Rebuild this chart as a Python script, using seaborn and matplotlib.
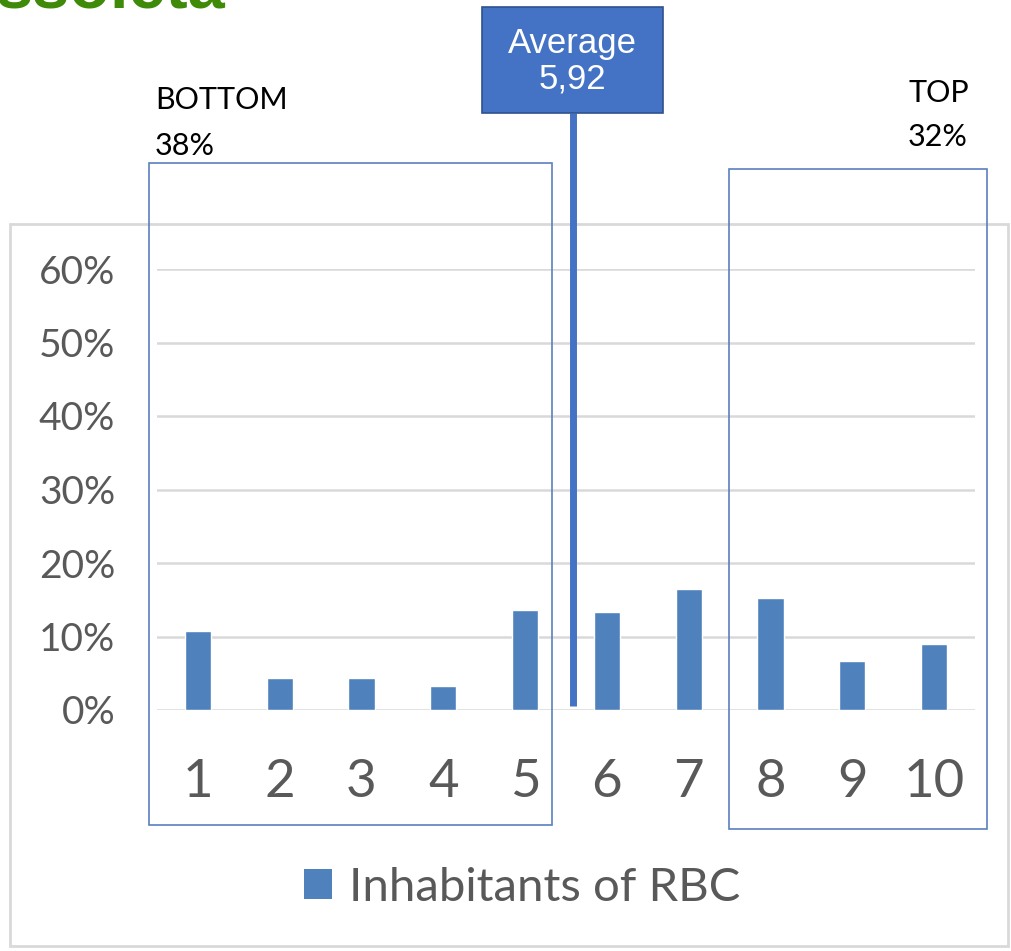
import matplotlib
matplotlib.use("Agg")
import matplotlib.pyplot as plt
import seaborn as sns
import pandas as pd
from matplotlib.patches import Rectangle
from matplotlib.lines import Line2D

# data
deciles = ["1", "2", "3", "4", "5", "6", "7", "8", "9", "10"]
share = [0.108, 0.044, 0.044, 0.033, 0.136, 0.134, 0.165, 0.153, 0.066, 0.090]
y_ticks = [0.0, 0.1, 0.2, 0.3, 0.4, 0.5, 0.6]
y_labels = ["0%", "10%", "20%", "30%", "40%", "50%", "60%"]
series_name = "Inhabitants of RBC"
avg_label = "Average\n5,92"
bottom_label = ("BOTTOM", "38%")
top_label = ("TOP", "32%")

df = pd.DataFrame({"decile": deciles, "share": share})

W, H = 1012, 951
bar_color = "#4F81BD"
box_blue = "#4472C4"
grey_txt = "#595959"
font = "Lato"


def fx(px):
    return px / W


def fy(py):
    return 1 - py / H


sns.set_theme(style="white")
plt.rcParams["font.family"] = [font, "DejaVu Sans"]

fig = plt.figure(figsize=(W / 100, H / 100), dpi=100)
ax = fig.add_axes([fx(157), fy(710), fx(975) - fx(157), fy(269) - fy(710)])

sns.barplot(data=df, x="decile", y="share", color=bar_color, width=0.32,
            saturation=1, ax=ax, zorder=3)

ax.set_xlim(-0.5, 9.5)
ax.set_ylim(0, 0.6)
ax.set_yticks(y_ticks)
ax.set_yticklabels(y_labels)
ax.set_xlabel("")
ax.set_ylabel("")
ax.grid(axis="y", color="#D9D9D9", linewidth=1.8, zorder=0)
ax.grid(axis="x", visible=False)
for s in ax.spines.values():
    s.set_visible(False)
ax.tick_params(axis="y", length=0, pad=30, labelsize=28, labelcolor=grey_txt)
ax.tick_params(axis="x", length=0, pad=35, labelsize=38, labelcolor=grey_txt)

# legend
handle = Rectangle((0, 0), 1, 1, facecolor=bar_color, edgecolor="none")
fig.legend([handle], [series_name], loc="center", bbox_to_anchor=(fx(522), fy(888)),
           frameon=False, fontsize=34, labelcolor=grey_txt, handlelength=0.6,
           handleheight=0.6, handletextpad=0.35)

# outer chart frame
fig.patches.append(Rectangle((fx(10), fy(946)), fx(1008) - fx(10), fy(224) - fy(946),
                             transform=fig.transFigure, fill=False,
                             edgecolor="#D9D9D9", linewidth=2, zorder=0))

# bottom / top group boxes
for x0, y0, x1, y1 in [(149, 163, 552, 825), (729, 169, 987, 829)]:
    fig.patches.append(Rectangle((fx(x0), fy(y1)), fx(x1) - fx(x0), fy(y0) - fy(y1),
                                 transform=fig.transFigure, fill=False,
                                 edgecolor="#5B7FC0", linewidth=1.2, zorder=5))

fig.text(fx(155), fy(109), bottom_label[0], ha="left", va="baseline", fontsize=22,
         color="black")
fig.text(fx(155), fy(155), bottom_label[1], ha="left", va="baseline", fontsize=22,
         color="black")
fig.text(fx(939), fy(102), top_label[0], ha="center", va="baseline", fontsize=22,
         color="black")
fig.text(fx(938), fy(146), top_label[1], ha="center", va="baseline", fontsize=22,
         color="black")

# average marker
fig.lines.append(Line2D([fx(572.5), fx(572.5)], [fy(113), fy(706)],
                        transform=fig.transFigure, color=box_blue, linewidth=5,
                        solid_capstyle="butt", zorder=6))
fig.patches.append(Rectangle((fx(482), fy(113)), fx(663) - fx(482), fy(7) - fy(113),
                             transform=fig.transFigure, facecolor=box_blue,
                             edgecolor="#2F528F", linewidth=1.2, zorder=7))
fig.text(fx(572.5), fy(61), avg_label, ha="center", va="center", fontsize=25,
         color="white", family="Liberation Sans", linespacing=1.1, zorder=8)

# clipped title remnant at the very top
fig.text(fx(-4), fy(8), "ssoleta", ha="left", va="baseline", fontsize=48,
         fontweight="bold", color="#3F8A08", family="Liberation Sans")

fig.savefig("out.png", dpi=100)
